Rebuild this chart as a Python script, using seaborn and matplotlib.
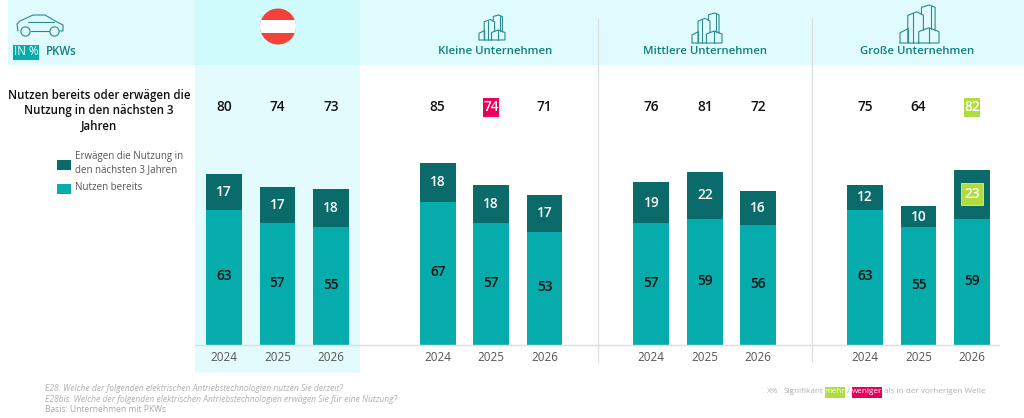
import pandas as pd
import numpy as np
import matplotlib
matplotlib.use("Agg")
import matplotlib.pyplot as plt
from matplotlib.patches import Rectangle, Circle
import seaborn as sns

# values
groups = ["AT", "Klein", "Mittel", "Gross"]
years = ["2024", "2025", "2026"]
nutzen = [63, 57, 55, 67, 57, 53, 57, 59, 56, 63, 55, 59]
erwaegen = [17, 17, 18, 18, 18, 17, 19, 22, 16, 12, 10, 23]
gesamt = [80, 74, 73, 85, 74, 71, 76, 81, 72, 75, 64, 82]

TEAL = "#06abab"
DARK = "#0b6b6b"
HEAD = "#0f7f7f"
PINK = "#e8005a"
GREEN = "#b0dc3c"

sns.set_theme(style="white")
plt.rcParams["font.family"] = ["Open Sans", "DejaVu Sans"]

rows = []
i = 0
order = []
for g in groups:
    for y in years:
        rows.append({"slot": g + y, "year": y, "nutzen": nutzen[i], "erwaegen": erwaegen[i],
                     "stack": nutzen[i] + erwaegen[i], "gesamt": gesamt[i]})
        order.append(g + y)
        i += 1
    order.append("gap" + g)
order = order[:-1]
df = pd.DataFrame(rows)
df["pos"] = [order.index(s) for s in df["slot"]]

fig = plt.figure(figsize=(10.24, 4.18), dpi=100)

# background layer, in pixels of the picture
bg = fig.add_axes([0, 0, 1, 1], zorder=0)
bg.set_xlim(0, 1024)
bg.set_ylim(418, 0)
bg.axis("off")
bg.add_patch(Rectangle((8, 0), 1016, 65, fc="#e0fbfd", ec="none"))
bg.add_patch(Rectangle((195, 65), 165, 308, fc="#e3fbfd", ec="none"))
bg.add_patch(Rectangle((195, 0), 165, 65, fc="#d0fbfd", ec="none"))
for sx in [598, 812]:
    bg.plot([sx, sx], [18, 362], color="#dcdfe0", lw=0.9)

# flag
disc = Circle((278, 26.5), 18, fc="#f4413a", ec="none")
bg.add_patch(disc)
band = Rectangle((258, 20), 40, 12.5, fc="white", ec="none")
bg.add_patch(band)
band.set_clip_path(disc)


def draw_building(x0, y0, w, h):
    # outline of the skyline icon, unit box scaled to w x h
    parts = [
        [(0.0, 1), (0.0, 0.73), (0.22, 0.62), (0.22, 1)],
        [(0.2, 1), (0.2, 0.27), (0.43, 0.18), (0.6, 0.27), (0.6, 0.66)],
        [(0.55, 0.25), (0.55, 0.06), (0.75, 0.0), (0.9, 0.06), (0.9, 0.68)],
        [(0.48, 1), (0.48, 0.7), (0.74, 0.6), (1.0, 0.7), (1.0, 1), (0.0, 1)],
        [(0.74, 0.6), (0.74, 1)],
        [(0.8, 0.03), (0.8, 0.63)],
        [(0.34, 0.22), (0.34, 1)],
    ]
    for p in parts:
        xs = [x0 + a * w for a, b in p]
        ys = [y0 + b * h for a, b in p]
        bg.plot(xs, ys, color="#2a8a8a", lw=0.8, solid_joinstyle="miter")


draw_building(479, 15, 26, 25)
draw_building(692, 13, 30, 30)
draw_building(900, 5, 39, 38)

# car icon
car_x = [18, 17, 20, 33, 45, 57, 63, 63, 60]
car_y = [31, 24, 21, 15, 15, 22, 25, 31, 31]
bg.plot(car_x, car_y, color="#2a8a8a", lw=0.8)
bg.plot([31, 49], [31, 31], color="#2a8a8a", lw=0.8)
bg.plot([28, 54], [22, 22], color="#2a8a8a", lw=0.8)
for cx in [25.5, 54.5]:
    bg.add_patch(Circle((cx, 31.5), 4.6, fc="none", ec="#2a8a8a", lw=0.8))

bg.add_patch(Rectangle((13, 45), 26, 15, fc=TEAL, ec="none"))
bg.text(26, 51.5, "IN %", color="white", fontsize=8.3, ha="center", va="center")
bg.text(46, 51.5, "PKWs", color=HEAD, fontsize=8.3, ha="left", va="center", weight="semibold")

for name, cx in [("Kleine Unternehmen", 495), ("Mittlere Unternehmen", 705), ("Große Unternehmen", 917)]:
    bg.text(cx, 51, name, color=HEAD, fontsize=8.2, ha="center", va="center", weight="semibold")

title = ["Nutzen bereits oder erwägen die", "Nutzung in den nächsten 3", "Jahren"]
for line, ty in zip(title, [95, 110.5, 126]):
    bg.text(99, ty, line, color="#111111", fontsize=8.3, ha="center", va="center", weight="semibold")

# legend
bg.add_patch(Rectangle((57, 160), 13.5, 9.5, fc=DARK, ec="none"))
bg.add_patch(Rectangle((57, 184), 13.5, 9.5, fc=TEAL, ec="none"))
bg.text(75, 157, "Erwägen die Nutzung in", color="#555555", fontsize=7, va="center")
bg.text(75, 170, "den nächsten 3 Jahren", color="#555555", fontsize=7, va="center")
bg.text(75, 187, "Nutzen bereits", color="#555555", fontsize=7, va="center")

# footnotes
foot = ["E28. Welche der folgenden elektrischen Antriebstechnologien nutzen Sie derzeit?",
        "E28bis. Welche der folgenden elektrischen Antriebstechnologien erwägen Sie für eine Nutzung?"]
bg.text(45, 388.5, foot[0], color="#b0b0b0", fontsize=6.15, style="italic", va="center")
bg.text(45, 399, foot[1], color="#b0b0b0", fontsize=6.15, style="italic", va="center")
bg.text(45, 409.5, "Basis: Unternehmen mit PKWs", color="#a8a8a8", fontsize=6.15, va="center")

bg.add_patch(Rectangle((825, 386.5), 19.5, 11, fc=GREEN, ec="none"))
bg.add_patch(Rectangle((852, 386.5), 30, 11, fc=PINK, ec="none"))
bg.text(767, 391.5, "X%", color="#b0b0b0", fontsize=5.9, va="center")
bg.text(784, 391.5, "Signifikant", color="#b0b0b0", fontsize=5.9, va="center")
bg.text(834.7, 391.5, "mehr", color="white", fontsize=5.9, va="center", ha="center")
bg.text(848, 391.5, "/", color="#b0b0b0", fontsize=5.9, va="center", ha="center")
bg.text(867, 391.5, "weniger", color="white", fontsize=5.9, va="center", ha="center")
bg.text(884.5, 391.5, "als in der vorherigen Welle", color="#b0b0b0", fontsize=5.9, va="center")

# bars, value axis in percent
ax = fig.add_axes([0, 0, 1, 1], zorder=1)
ax.patch.set_alpha(0)
sns.barplot(data=df, x="slot", y="stack", order=order, color=DARK, width=0.67, saturation=1,
            linewidth=0, ax=ax)
sns.barplot(data=df, x="slot", y="nutzen", order=order, color=TEAL, width=0.67, saturation=1,
            linewidth=0, ax=ax)

px_per_unit = 2.14
px_per_slot = 53.42
ax.set_xlim(-224 / px_per_slot, (1024 - 224) / px_per_slot)
ax.set_ylim(-(418 - 345) / px_per_unit, 345 / px_per_unit)
ax.axis("off")

ax.plot([-0.55, 14.5], [0, 0], color="#dcdfe0", lw=1, zorder=1)

for _, r in df.iterrows():
    p = r["pos"]
    ax.text(p, -6, r["year"], ha="center", va="center", fontsize=8.4, color="#555555", zorder=6)
    ax.text(p, r["nutzen"] / 2 + 0.6, str(r["nutzen"]), ha="center", va="center",
            fontsize=9.8, weight="semibold", color="#111111", zorder=6)

    seg_y = r["nutzen"] + r["erwaegen"] / 2
    if r["slot"] == "Gross2026":
        ax.add_patch(Rectangle((p - 0.21, seg_y - 5.3), 0.42, 10.6, fc=GREEN, ec="#d8eeb0", lw=0.6, zorder=5))
    ax.text(p, seg_y, str(r["erwaegen"]), ha="center", va="center",
            fontsize=9.8, weight="semibold", color="white", zorder=6)

    total_color = "#111111"
    if r["slot"] == "Klein2025":
        ax.add_patch(Rectangle((p - 0.15, 106.5), 0.3, 9, fc=PINK, ec="none", zorder=5))
        total_color = "white"
    if r["slot"] == "Gross2026":
        ax.add_patch(Rectangle((p - 0.15, 106.5), 0.3, 9, fc=GREEN, ec="none", zorder=5))
        total_color = "white"
    ax.text(p, 111, str(r["gesamt"]), ha="center", va="center",
            fontsize=9.8, weight="semibold", color=total_color, zorder=6)

fig.savefig("out.png", dpi=100)
